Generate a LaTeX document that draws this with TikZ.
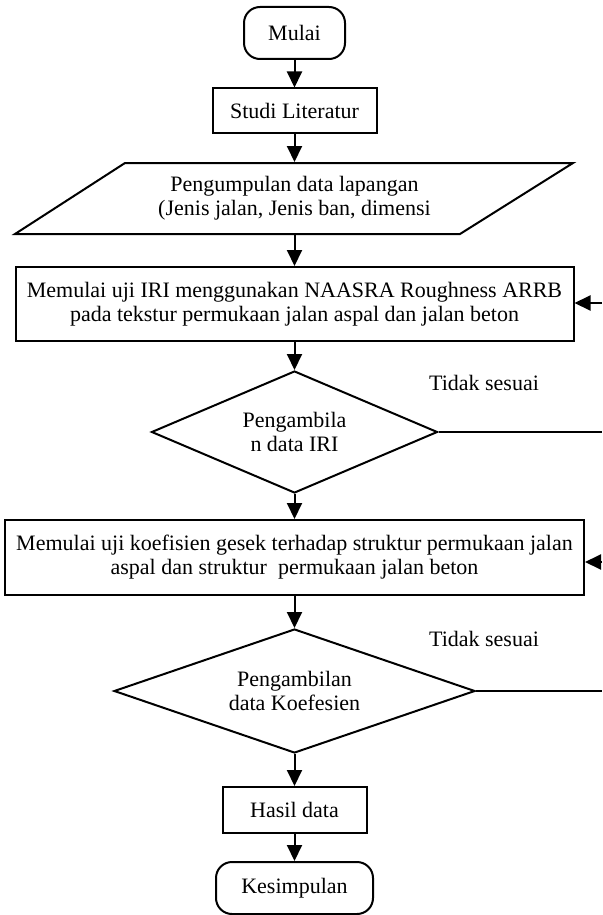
\documentclass[tikz,border=0pt]{standalone}
\usepackage{fontspec}
\setmainfont{Liberation Serif}
\usetikzlibrary{shapes.geometric,arrows.meta}

\begin{document}
\begin{tikzpicture}[x=0.5pt,y=-0.5pt,line width=1pt,font=\fontsize{11}{12}\selectfont]

	% Gaya
	\tikzstyle{terminal} = [draw,rounded corners=8pt,minimum height=26pt]
	\tikzstyle{proses} = [draw,align=center]
	\tikzstyle{keputusan} = [draw,shape=diamond,align=center,inner sep=0pt]
	\tikzstyle{panah} = [-{Triangle[length=8pt,width=7.5pt]}]

	\useasboundingbox (0,0) rectangle (602,915);

	% Simpul alur
	\node at (294.5,33) [terminal,minimum width=50.5pt] (mulai) {Mulai};
	\node at (294.5,111) [proses,minimum width=82pt,minimum height=22.5pt] (studi) {Studi Literatur};
	\node at (294.5,198.5) [align=center,minimum height=35.5pt] (kumpul) {Pengumpulan data lapangan\\(Jenis jalan, Jenis ban, dimensi};
	\draw (125,163) -- (573,163) -- (460,234) -- (15,234) -- cycle;
	\node at (294.5,304) [proses,minimum width=279pt,minimum height=37pt] (iri) {Memulai uji IRI menggunakan NAASRA Roughness ARRB\\pada tekstur permukaan jalan aspal dan jalan beton};
	\node at (294.5,432) [keputusan,aspect=2.3,minimum width=143pt,minimum height=61pt] (cekiri) {Pengambila\\n data IRI};
	\node at (294.5,557.5) [proses,minimum width=289.5pt,minimum height=37.5pt] (koef) {Memulai uji koefisien gesek terhadap struktur permukaan jalan\\aspal dan struktur~ permukaan jalan beton};
	\node at (294.5,691) [keputusan,aspect=2.9,minimum width=180.5pt,minimum height=62pt] (cekkoef) {Pengambilan\\data Koefesien};
	\node at (294.5,810) [proses,minimum width=72pt,minimum height=23pt] (hasil) {Hasil data};
	\node at (294.5,888) [terminal,minimum width=78.5pt] (simpul) {Kesimpulan};

	% Keterangan
	\node at (484,383) (tidak1) {Tidak sesuai};
	\node at (484,639) (tidak2) {Tidak sesuai};

	% Titik di tepi kanan
	\coordinate (kanan1) at (602,432);
	\coordinate (kanan2) at (602,303);
	\coordinate (kanan3) at (602,691);
	\coordinate (kanan4) at (602,562);

	% Panah
	\draw[panah] (mulai) -- (studi);
	\draw[panah] (studi) -- (kumpul);
	\draw[panah] (kumpul) -- (iri);
	\draw[panah] (iri) -- (cekiri);
	\draw[panah] (cekiri) -- (koef);
	\draw[panah] (koef) -- (cekkoef);
	\draw[panah] (cekkoef) -- (hasil);
	\draw[panah] (hasil) -- (simpul);

	% Kembali jika tidak sesuai
	\draw (cekiri.east) -- (kanan1);
	\draw[panah] (kanan2) -- (iri.east |- kanan2);
	\draw (cekkoef.east) -- (kanan3);
	\draw[panah] (kanan4) -- (koef.east |- kanan4);

\end{tikzpicture}
\end{document}
